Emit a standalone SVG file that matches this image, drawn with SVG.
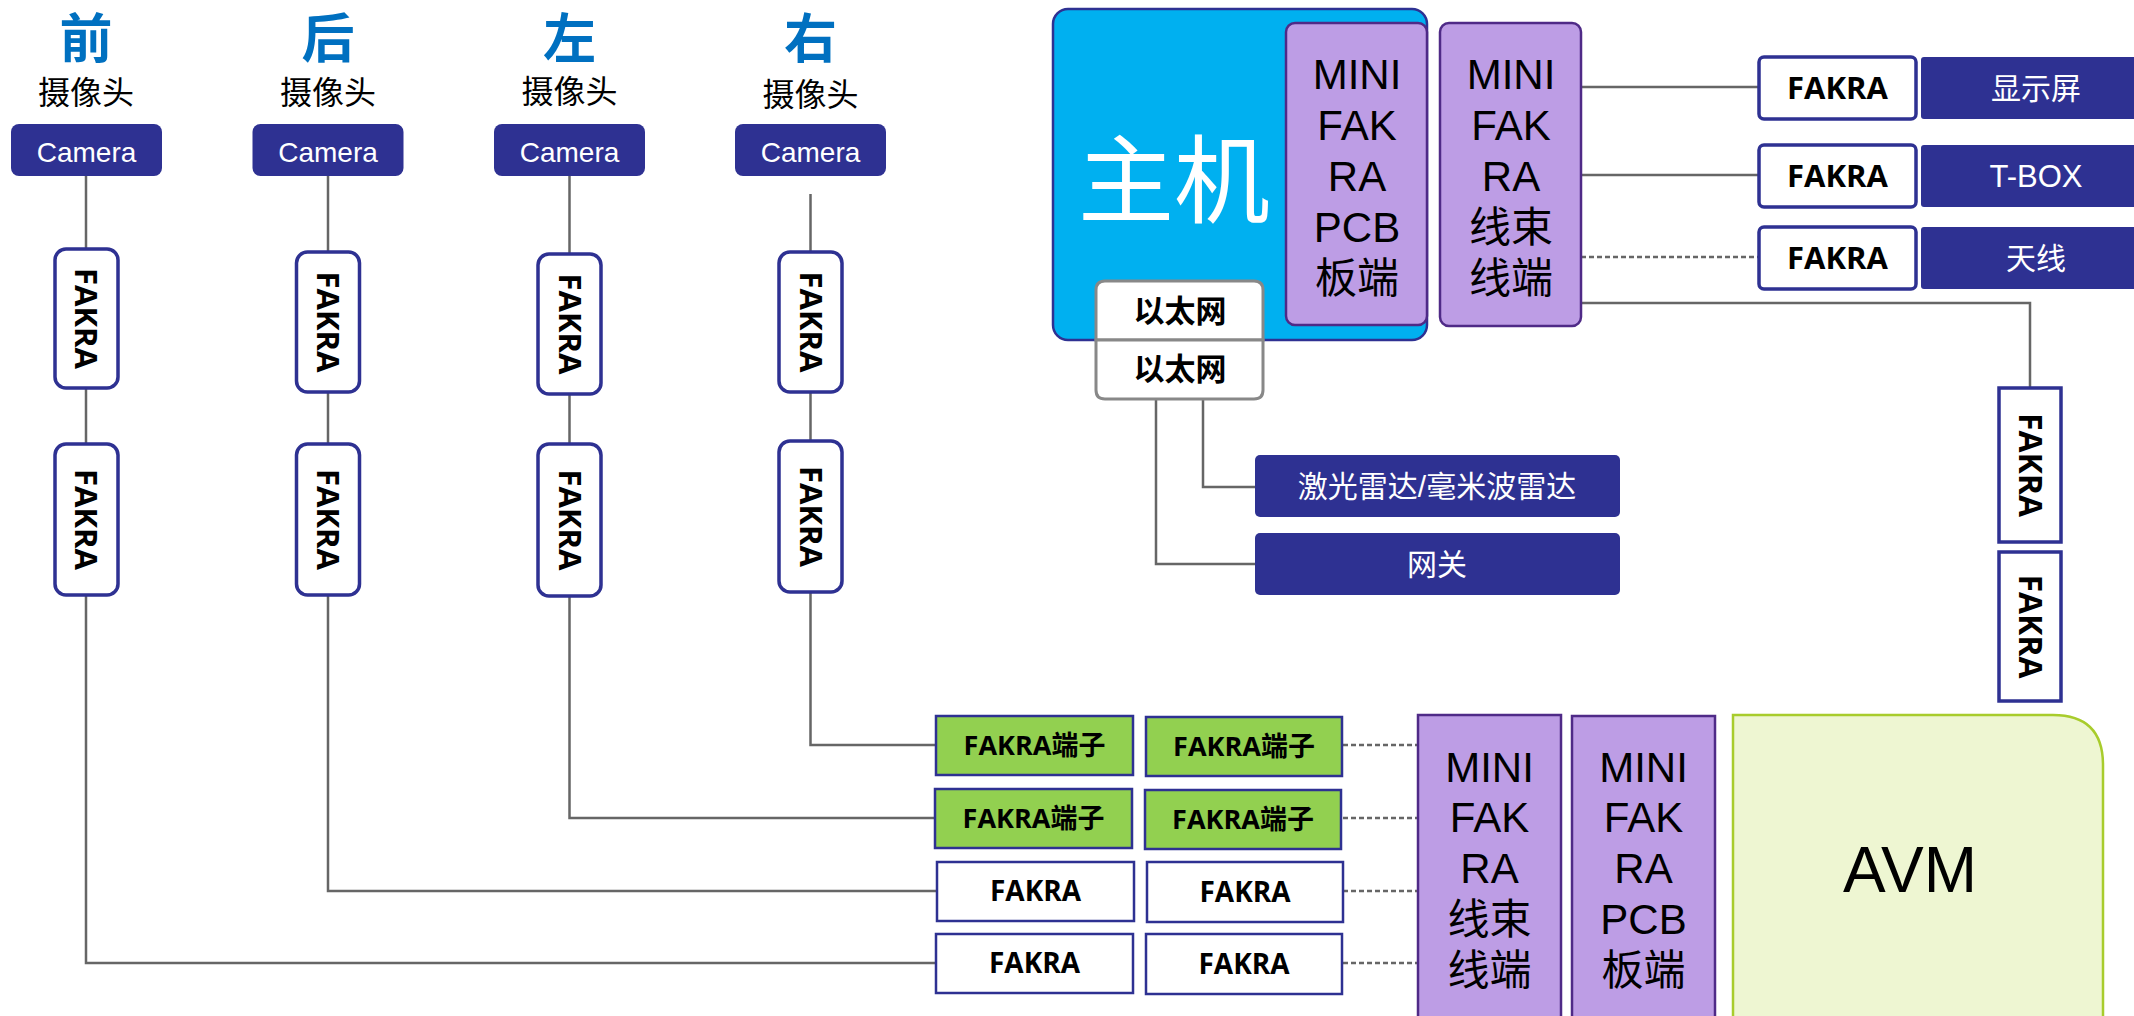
<svg xmlns="http://www.w3.org/2000/svg" width="2134" height="1016" viewBox="0 0 2134 1016">
<style>
.hd{font-family:"Noto Sans CJK SC",sans-serif;font-weight:700;font-size:53px;fill:#0070C0;text-anchor:middle}
.sub{font-family:"Noto Sans CJK SC",sans-serif;font-size:32px;fill:#000;text-anchor:middle}
.navy{fill:#2E3192}
.wt{font-family:"Liberation Sans","Noto Sans CJK SC",sans-serif;fill:#fff;text-anchor:middle}
.fk{font-family:"Open Sans","Noto Sans CJK SC",sans-serif;font-weight:700;fill:#000;text-anchor:middle}
.vbox{fill:#fff;stroke:#2E3192;stroke-width:3.5}
.sq{fill:#fff;stroke:#2E3192;stroke-width:2.5}
.grn{fill:#92D050;stroke:#2E3192;stroke-width:2.5}
.pur{fill:#BD9DE5;stroke:#4F2A87;stroke-width:2.5}
.pt{font-family:"Liberation Sans","Noto Sans CJK SC",sans-serif;font-size:42px;fill:#000;text-anchor:middle}
.ln{stroke:#666;stroke-width:2.5;fill:none}
.dash{stroke:#666;stroke-width:2.5;fill:none;stroke-dasharray:5 3}
.eth{fill:#fff;stroke:#888;stroke-width:3}
.et{font-family:"Noto Sans CJK SC",sans-serif;font-weight:700;font-size:31px;fill:#000;text-anchor:middle}
</style>

<g id="connectors">
  <line class="ln" x1="86" y1="176" x2="86" y2="249"/>
  <line class="ln" x1="86" y1="388" x2="86" y2="444"/>
  <polyline class="ln" points="86,595 86,963 937,963"/>
  <line class="ln" x1="328" y1="176" x2="328" y2="252"/>
  <line class="ln" x1="328" y1="392" x2="328" y2="444"/>
  <polyline class="ln" points="328,595 328,891 937,891"/>
  <line class="ln" x1="569.5" y1="176" x2="569.5" y2="254"/>
  <line class="ln" x1="569.5" y1="394" x2="569.5" y2="444"/>
  <polyline class="ln" points="569.5,596 569.5,818 936,818"/>
  <line class="ln" x1="810.5" y1="194" x2="810.5" y2="252"/>
  <line class="ln" x1="810.5" y1="392" x2="810.5" y2="441"/>
  <polyline class="ln" points="810.5,592 810.5,745 936,745"/>
  <line class="dash" x1="1343" y1="745" x2="1417" y2="745"/>
  <line class="dash" x1="1343" y1="818" x2="1417" y2="818"/>
  <line class="dash" x1="1343" y1="891" x2="1417" y2="891"/>
  <line class="dash" x1="1343" y1="963" x2="1417" y2="963"/>
  <line class="ln" x1="1581" y1="87" x2="1758" y2="87"/>
  <line class="ln" x1="1581" y1="175" x2="1758" y2="175"/>
  <line class="dash" x1="1581" y1="257" x2="1758" y2="257"/>
  <polyline class="ln" points="1581,303 2030,303 2030,388"/>
  <polyline class="ln" points="1203,399 1203,487 1255,487"/>
  <polyline class="ln" points="1156,399 1156,564 1255,564"/>
</g>

<g id="cam-front">
  <text class="hd" x="86" y="58">前</text>
  <text class="sub" x="86" y="104">摄像头</text>
  <rect class="navy" x="11" y="124" width="151" height="52" rx="8"/>
  <text class="wt" x="86.5" y="162" font-size="28">Camera</text>
</g>
<g id="cam-rear">
  <text class="hd" x="328" y="58">后</text>
  <text class="sub" x="328" y="104">摄像头</text>
  <rect class="navy" x="252.5" y="124" width="151" height="52" rx="8"/>
  <text class="wt" x="328" y="162" font-size="28">Camera</text>
</g>
<g id="cam-left">
  <text class="hd" x="569.5" y="58">左</text>
  <text class="sub" x="569.5" y="103">摄像头</text>
  <rect class="navy" x="494" y="124" width="151" height="52" rx="8"/>
  <text class="wt" x="569.5" y="162" font-size="28">Camera</text>
</g>
<g id="cam-right">
  <text class="hd" x="810.5" y="58">右</text>
  <text class="sub" x="810.5" y="106">摄像头</text>
  <rect class="navy" x="735" y="124" width="151" height="52" rx="8"/>
  <text class="wt" x="810.5" y="162" font-size="28">Camera</text>
</g>

<g id="fakra-v-1a"><rect class="vbox" x="55" y="249" width="63" height="139" rx="11"/><text class="fk" font-size="31" transform="translate(75,318.5) rotate(90)">FAKRA</text></g>
<g id="fakra-v-1b"><rect class="vbox" x="55" y="444" width="63" height="151" rx="11"/><text class="fk" font-size="31" transform="translate(75,519.5) rotate(90)">FAKRA</text></g>
<g id="fakra-v-2a"><rect class="vbox" x="296.5" y="252" width="63" height="140" rx="11"/><text class="fk" font-size="31" transform="translate(317,322) rotate(90)">FAKRA</text></g>
<g id="fakra-v-2b"><rect class="vbox" x="296.5" y="444" width="63" height="151" rx="11"/><text class="fk" font-size="31" transform="translate(317,519.5) rotate(90)">FAKRA</text></g>
<g id="fakra-v-3a"><rect class="vbox" x="538" y="254" width="63" height="140" rx="11"/><text class="fk" font-size="31" transform="translate(558.5,324) rotate(90)">FAKRA</text></g>
<g id="fakra-v-3b"><rect class="vbox" x="538" y="444" width="63" height="152" rx="11"/><text class="fk" font-size="31" transform="translate(558.5,520) rotate(90)">FAKRA</text></g>
<g id="fakra-v-4a"><rect class="vbox" x="779" y="252" width="63" height="140" rx="11"/><text class="fk" font-size="31" transform="translate(799.5,322) rotate(90)">FAKRA</text></g>
<g id="fakra-v-4b"><rect class="vbox" x="779" y="441" width="63" height="151" rx="11"/><text class="fk" font-size="31" transform="translate(799.5,516.5) rotate(90)">FAKRA</text></g>

<g id="host">
  <rect x="1053" y="9" width="374" height="331" rx="15" fill="#00B0F0" stroke="#2E3192" stroke-width="2.5"/>
  <text x="1174" y="215" font-family="Noto Sans CJK SC,sans-serif" font-size="96" fill="#fff" text-anchor="middle">主机</text>
</g>
<g id="host-pcb">
  <rect class="pur" x="1286" y="23" width="141" height="302" rx="9"/>
  <text class="pt" x="1357" y="89">MINI</text>
  <text class="pt" x="1357" y="140">FAK</text>
  <text class="pt" x="1357" y="191">RA</text>
  <text class="pt" x="1357" y="242">PCB</text>
  <text class="pt" x="1357" y="293">板端</text>
</g>
<g id="host-harness">
  <rect class="pur" x="1440" y="23" width="141" height="303" rx="9"/>
  <text class="pt" x="1511" y="89">MINI</text>
  <text class="pt" x="1511" y="140">FAK</text>
  <text class="pt" x="1511" y="191">RA</text>
  <text class="pt" x="1511" y="242">线束</text>
  <text class="pt" x="1511" y="293">线端</text>
</g>
<g id="eth-1">
  <path class="eth" d="M1096,340 V290 Q1096,281 1105,281 H1254 Q1263,281 1263,290 V340 Z"/>
  <text class="et" x="1180" y="322">以太网</text>
</g>
<g id="eth-2">
  <path class="eth" d="M1096,340 V390 Q1096,399 1105,399 H1254 Q1263,399 1263,390 V340 Z"/>
  <text class="et" x="1180" y="380">以太网</text>
</g>
<g id="lidar">
  <rect class="navy" x="1255" y="455" width="365" height="62" rx="5"/>
  <text class="wt" x="1437" y="497" font-size="30">激光雷达/毫米波雷达</text>
</g>
<g id="gateway">
  <rect class="navy" x="1255" y="533" width="365" height="62" rx="5"/>
  <text class="wt" x="1437" y="575" font-size="30">网关</text>
</g>

<g id="fakra-display"><rect class="vbox" x="1759" y="57" width="157" height="62" rx="5"/><text class="fk" font-size="31" x="1837.5" y="99">FAKRA</text></g>
<g id="display"><rect class="navy" x="1921" y="57" width="230" height="62" rx="3"/><text class="wt" x="2036" y="99" font-size="30">显示屏</text></g>
<g id="fakra-tbox"><rect class="vbox" x="1759" y="145" width="157" height="62" rx="5"/><text class="fk" font-size="31" x="1837.5" y="187">FAKRA</text></g>
<g id="tbox"><rect class="navy" x="1921" y="145" width="230" height="62" rx="3"/><text class="wt" x="2036" y="187" font-size="31">T-BOX</text></g>
<g id="fakra-antenna"><rect class="vbox" x="1759" y="227" width="157" height="62" rx="5"/><text class="fk" font-size="31" x="1837.5" y="269">FAKRA</text></g>
<g id="antenna"><rect class="navy" x="1921" y="227" width="230" height="62" rx="3"/><text class="wt" x="2036" y="269" font-size="30">天线</text></g>

<g id="fakra-avm-a"><rect class="vbox" x="1999" y="388" width="62" height="154"/><text class="fk" font-size="32" transform="translate(2019,465) rotate(90)">FAKRA</text></g>
<g id="fakra-avm-b"><rect class="vbox" x="1999" y="552" width="62" height="149"/><text class="fk" font-size="32" transform="translate(2019,626.5) rotate(90)">FAKRA</text></g>

<g id="term-a1"><rect class="grn" x="936" y="716" width="197" height="59"/><text class="fk" font-size="27" x="1034.5" y="755">FAKRA端子</text></g>
<g id="term-b1"><rect class="grn" x="1146" y="717" width="196" height="59"/><text class="fk" font-size="27" x="1244" y="756">FAKRA端子</text></g>
<g id="term-a2"><rect class="grn" x="935" y="789" width="197" height="59"/><text class="fk" font-size="27" x="1033.5" y="828">FAKRA端子</text></g>
<g id="term-b2"><rect class="grn" x="1145" y="790" width="196" height="59"/><text class="fk" font-size="27" x="1243" y="829">FAKRA端子</text></g>
<g id="fakra-a3"><rect class="sq" x="937" y="862" width="197" height="59"/><text class="fk" font-size="28" x="1035.5" y="901">FAKRA</text></g>
<g id="fakra-b3"><rect class="sq" x="1147" y="862" width="196" height="60"/><text class="fk" font-size="28" x="1245" y="902">FAKRA</text></g>
<g id="fakra-a4"><rect class="sq" x="936" y="934" width="197" height="59"/><text class="fk" font-size="28" x="1034.5" y="973">FAKRA</text></g>
<g id="fakra-b4"><rect class="sq" x="1146" y="934" width="196" height="60"/><text class="fk" font-size="28" x="1244" y="974">FAKRA</text></g>

<g id="avm-harness">
  <rect class="pur" x="1418" y="715" width="143" height="320"/>
  <text class="pt" x="1489.5" y="782">MINI</text>
  <text class="pt" x="1489.5" y="832">FAK</text>
  <text class="pt" x="1489.5" y="883">RA</text>
  <text class="pt" x="1489.5" y="934">线束</text>
  <text class="pt" x="1489.5" y="985">线端</text>
</g>
<g id="avm-pcb">
  <rect class="pur" x="1572" y="716" width="143" height="320"/>
  <text class="pt" x="1643.5" y="782">MINI</text>
  <text class="pt" x="1643.5" y="832">FAK</text>
  <text class="pt" x="1643.5" y="883">RA</text>
  <text class="pt" x="1643.5" y="934">PCB</text>
  <text class="pt" x="1643.5" y="985">板端</text>
</g>
<g id="avm">
  <path d="M1733,1040 V715 H2053 Q2103,715 2103,765 V1040 Z" fill="#EEF6D2" stroke="#A8CC2C" stroke-width="2.5"/>
  <text x="1910" y="892" font-family="Liberation Sans,sans-serif" font-size="64" text-anchor="middle" fill="#000">AVM</text>
</g>
</svg>
